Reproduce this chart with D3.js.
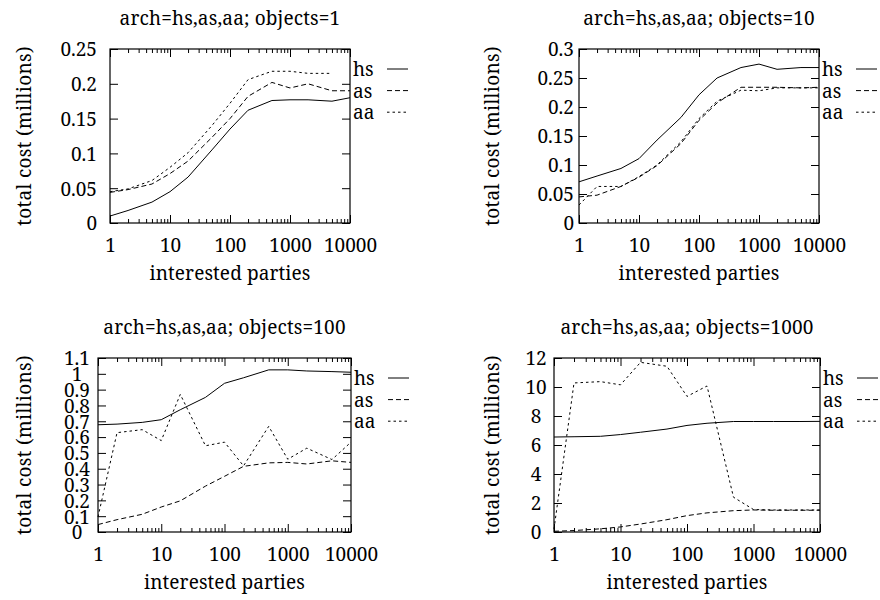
<!DOCTYPE html>
<html>
<head>
<meta charset="utf-8">
<script src="https://cdn.jsdelivr.net/npm/d3@7"></script>
<style>
  html, body { margin: 0; padding: 0; background: #fff; }
  svg { display: block; }
</style>
</head>
<body>
<svg id="chart" width="880" height="600"></svg>
<script>
// ---------------- data ----------------
const parties = [1, 2, 5, 10, 20, 50, 100, 200, 500, 1000, 2000, 5000, 10000];
const seriesNames = ["hs", "as", "aa"];
const titles = [
  "arch=hs,as,aa; objects=1",
  "arch=hs,as,aa; objects=10",
  "arch=hs,as,aa; objects=100",
  "arch=hs,as,aa; objects=1000"
];
const xLabel = "interested parties";
const yLabel = "total cost (millions)";
const xTickValues = [1, 10, 100, 1000, 10000];
const xTickLabels = ["1", "10", "100", "1000", "10000"];

// objects = 1
const hs1 = [0.010, 0.018, 0.030, 0.045, 0.066, 0.105, 0.135, 0.162, 0.176, 0.177, 0.177, 0.175, 0.180];
const as1 = [0.044, 0.048, 0.056, 0.071, 0.089, 0.123, 0.150, 0.182, 0.202, 0.194, 0.200, 0.190, 0.190];
const aa1 = [0.045, 0.049, 0.061, 0.080, 0.101, 0.140, 0.172, 0.206, 0.218, 0.218, 0.215, 0.215];
const yTicks1 = [0, 0.05, 0.1, 0.15, 0.2, 0.25];
const yLabels1 = ["0", "0.05", "0.1", "0.15", "0.2", "0.25"];

// objects = 10
const hs10 = [0.071, 0.081, 0.094, 0.111, 0.143, 0.182, 0.221, 0.250, 0.268, 0.274, 0.265, 0.268, 0.268];
const as10 = [0.045, 0.048, 0.063, 0.079, 0.099, 0.137, 0.177, 0.207, 0.234, 0.234, 0.234, 0.233, 0.234];
const aa10 = [0.031, 0.063, 0.063, 0.080, 0.100, 0.140, 0.180, 0.210, 0.229, 0.228, 0.233, 0.233, 0.233];
const yTicks10 = [0, 0.05, 0.1, 0.15, 0.2, 0.25, 0.3];
const yLabels10 = ["0", "0.05", "0.1", "0.15", "0.2", "0.25", "0.3"];

// objects = 100
const hs100 = [0.678, 0.682, 0.693, 0.710, 0.773, 0.851, 0.940, 0.975, 1.025, 1.025, 1.018, 1.014, 1.010];
const as100 = [0.047, 0.078, 0.112, 0.158, 0.197, 0.290, 0.352, 0.415, 0.437, 0.440, 0.430, 0.450, 0.440];
const aa100 = [0.095, 0.628, 0.647, 0.578, 0.870, 0.545, 0.568, 0.418, 0.668, 0.460, 0.530, 0.458, 0.568];
const yTicks100 = [0, 0.1, 0.2, 0.3, 0.4, 0.5, 0.6, 0.7, 0.8, 0.9, 1, 1.1];
const yLabels100 = ["0", "0.1", "0.2", "0.3", "0.4", "0.5", "0.6", "0.7", "0.8", "0.9", "1", "1.1"];

// objects = 1000
const hs1000 = [6.55, 6.57, 6.60, 6.72, 6.88, 7.10, 7.35, 7.50, 7.62, 7.62, 7.62, 7.62, 7.63];
const as1000 = [0.05, 0.10, 0.22, 0.35, 0.55, 0.85, 1.13, 1.32, 1.47, 1.52, 1.50, 1.50, 1.50];
const aa1000 = [0.20, 10.28, 10.37, 10.15, 11.70, 11.43, 9.35, 10.07, 2.40, 1.55, 1.52, 1.52, 1.52];
const yTicks1000 = [0, 2, 4, 6, 8, 10, 12];
const yLabels1000 = ["0", "2", "4", "6", "8", "10", "12"];

// ---------------- layout ----------------
const panels = [
  { L: 110, R: 350, T: 49, B: 223, yMax: 0.25, ticks: yTicks1, labels: yLabels1, series: [hs1, as1, aa1], tickX: -13, anchor: "end", ylx: 31 },
  { L: 579, R: 819, T: 49, B: 223, yMax: 0.3, ticks: yTicks10, labels: yLabels10, series: [hs10, as10, aa10], tickX: -5, anchor: "end", ylx: 499 },
  { L: 98, R: 351, T: 358, B: 532, yMax: 1.1, ticks: yTicks100, labels: yLabels100, series: [hs100, as100, aa100], tickX: -21, anchor: "middle", ylx: 31 },
  { L: 554, R: 820, T: 358, B: 532, yMax: 12, ticks: yTicks1000, labels: yLabels1000, series: [hs1000, as1000, aa1000], tickX: -18, anchor: "middle", ylx: 499 }
];
const dashes = [null, "5,3", "2.5,3"];
const FONT = "'Noto Serif', 'Liberation Serif', serif";
const FS = 19;

const svg = d3.select("#chart");

function styleText(sel, ls) {
  return sel.attr("font-family", null).attr("font-size", null)
    .style("font-family", FONT).style("font-size", FS + "px")
    .style("letter-spacing", ls ? ls + "px" : null).attr("fill", "#000");
}

panels.forEach((p, i) => {
  const g = svg.append("g");
  const x = d3.scaleLog().domain([1, 10000]).range([p.L, p.R]);
  const y = d3.scaleLinear().domain([0, p.yMax]).range([p.B, p.T]);

  const minor = [];
  for (let d = 1; d < 10000; d *= 10) for (let k = 2; k <= 9; k++) minor.push(d * k);

  const bx = g.append("g").attr("transform", `translate(0,${p.B})`)
    .call(d3.axisBottom(x).tickValues(xTickValues).tickFormat((d, j) => xTickLabels[j]).tickSize(-8).tickPadding(0));
  const bm = g.append("g").attr("transform", `translate(0,${p.B})`)
    .call(d3.axisBottom(x).tickValues(minor).tickFormat("").tickSize(-4));
  const tx = g.append("g").attr("transform", `translate(0,${p.T})`)
    .call(d3.axisTop(x).tickValues(xTickValues).tickFormat("").tickSize(-8));
  const tm = g.append("g").attr("transform", `translate(0,${p.T})`)
    .call(d3.axisTop(x).tickValues(minor).tickFormat("").tickSize(-4));
  const ly = g.append("g").attr("transform", `translate(${p.L},0)`)
    .call(d3.axisLeft(y).tickValues(p.ticks).tickFormat((d, j) => p.labels[j]).tickSize(-8));
  const ry = g.append("g").attr("transform", `translate(${p.R},0)`)
    .call(d3.axisRight(y).tickValues(p.ticks).tickFormat("").tickSize(-8));

  [bx, bm, tx, tm, ly, ry].forEach(a => {
    a.select(".domain").remove();
    a.selectAll("line").attr("stroke", "#000").attr("stroke-width", 1);
    a.attr("font-family", null).attr("font-size", null);
  });
  styleText(bx.selectAll("text").attr("y", 28.5).attr("dy", null));
  styleText(ly.selectAll("text").attr("x", p.tickX).attr("dy", "0.36em").attr("text-anchor", p.anchor));

  g.append("rect").attr("x", p.L).attr("y", p.T)
    .attr("width", p.R - p.L).attr("height", p.B - p.T)
    .attr("fill", "none").attr("stroke", "#000").attr("stroke-width", 1.2);

  const line = d3.line().x(d => x(d[0])).y(d => y(d[1]));
  p.series.forEach((vals, s) => {
    const pts = vals.map((v, j) => [parties[j], v]);
    g.append("path").datum(pts)
      .attr("d", line).attr("fill", "none")
      .attr("stroke", "#000").attr("stroke-width", 1)
      .attr("stroke-dasharray", dashes[s]);
  });

  seriesNames.forEach((name, s) => {
    const ly0 = p.T + 20 + 21.6 * s;
    styleText(g.append("text").attr("x", p.R + 3).attr("y", ly0 + 7)).text(name);
    g.append("line").attr("x1", p.R + 37).attr("x2", p.R + 58)
      .attr("y1", ly0).attr("y2", ly0)
      .attr("stroke", "#000").attr("stroke-width", 1)
      .attr("stroke-dasharray", dashes[s]);
  });

  styleText(g.append("text").attr("x", (p.L + p.R) / 2).attr("y", p.T - 24)
    .attr("text-anchor", "middle"), 0.15).text(titles[i]);
  styleText(g.append("text").attr("x", (p.L + p.R) / 2).attr("y", p.B + 57)
    .attr("text-anchor", "middle"), 0.1).text(xLabel);
  styleText(g.append("text").attr("transform", `translate(${p.ylx},${(p.T + p.B) / 2}) rotate(-90)`)
    .attr("text-anchor", "middle"), 0.3).text(yLabel);
});
</script>
</body>
</html>
